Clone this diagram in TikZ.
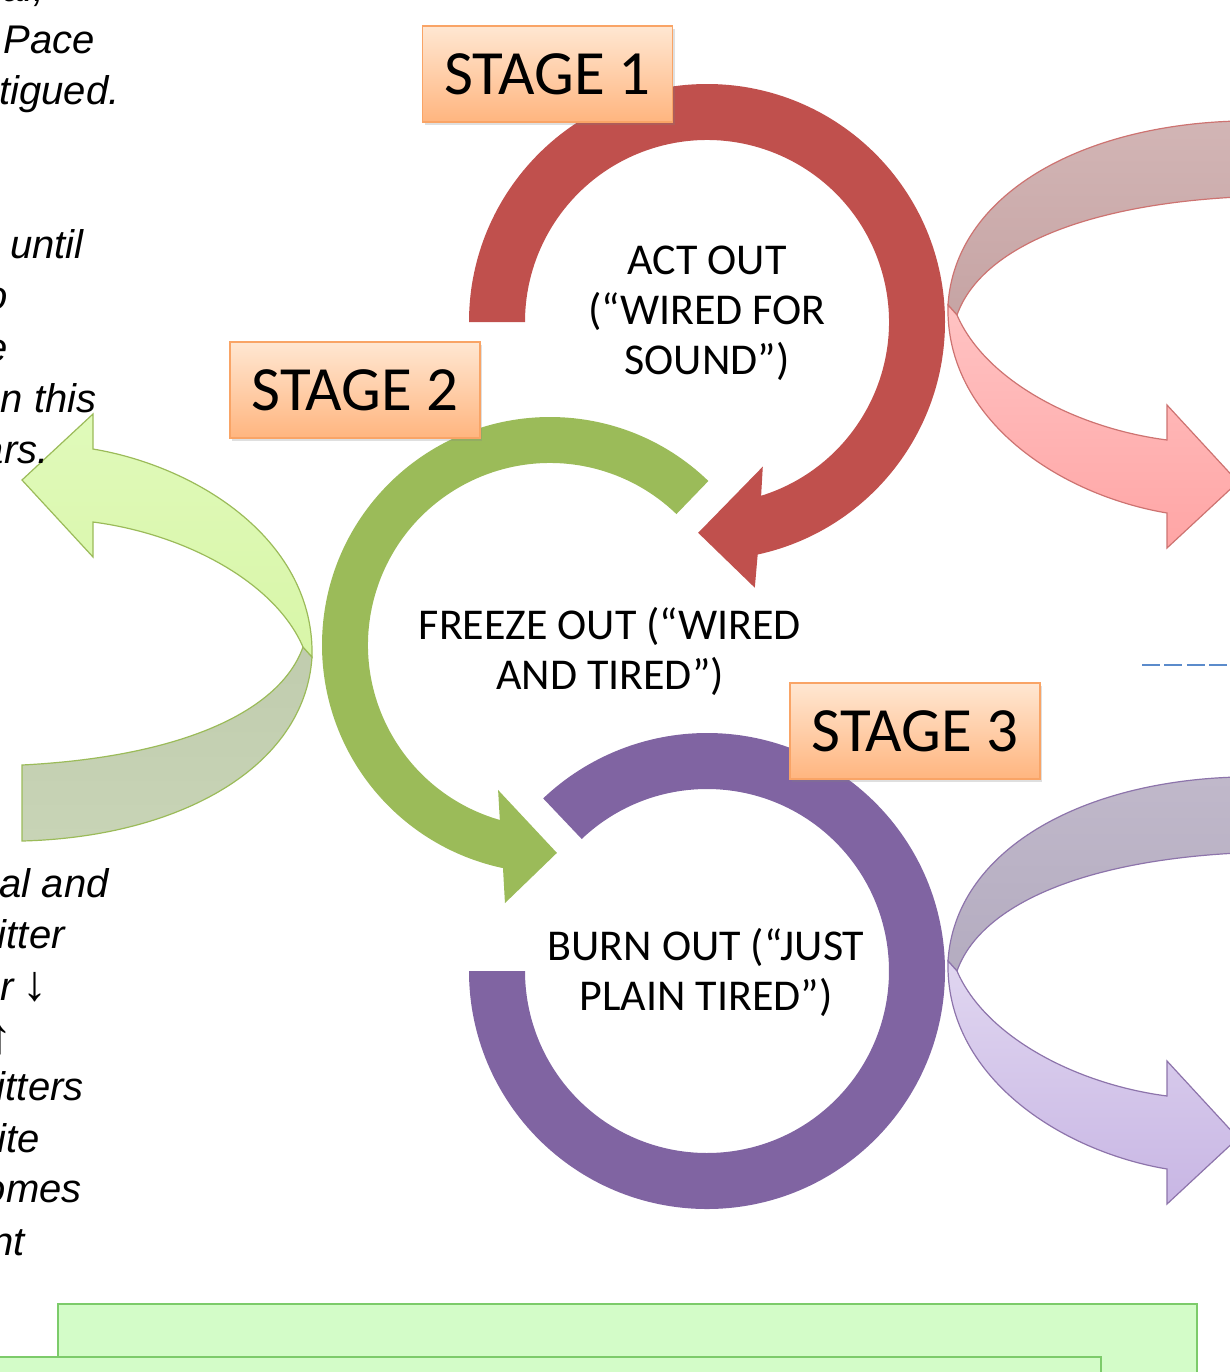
\documentclass[tikz,border=0pt]{standalone}
\usepackage{fontspec}
\setmainfont{Carlito}
\newfontfamily\sidefont{Liberation Sans}
\usetikzlibrary{calc,shadows}

\definecolor{ringred}{HTML}{C0504D}
\definecolor{ringgreen}{HTML}{9BBB59}
\definecolor{ringpurple}{HTML}{8064A2}
\definecolor{stagetop}{HTML}{FFE7D2}
\definecolor{stagebot}{HTML}{FFB57F}
\definecolor{stageline}{HTML}{F9A466}
\definecolor{redback}{HTML}{D2B5B5}
\definecolor{redbackb}{HTML}{C6A4A4}
\definecolor{redfront}{HTML}{FFC3C3}
\definecolor{redfrontb}{HTML}{FFA5A5}
\definecolor{grnback}{HTML}{C0CCAE}
\definecolor{grnbackb}{HTML}{C8D4B6}
\definecolor{grnfront}{HTML}{E0FABA}
\definecolor{grnfrontb}{HTML}{D8F6A8}
\definecolor{purback}{HTML}{C0B8CA}
\definecolor{purbackb}{HTML}{B4ACC0}
\definecolor{purfront}{HTML}{E0D6F0}
\definecolor{purfrontb}{HTML}{C8B6E4}
\definecolor{boxfill}{HTML}{D3FCC8}
\definecolor{boxline}{HTML}{7CCB6A}
\definecolor{dashblue}{HTML}{5B8BCB}

\newcommand\ribbonback{(1238,121) .. controls (1080,125) and (955,195) .. (948,305) -- (957,315) .. controls (980,250) and (1080,205) .. (1238,197) -- cycle}
\newcommand\ribbonfront{(948,305) .. controls (945,420) and (1060,495) .. (1167,513) -- (1167,548) -- (1238,482) -- (1167,405) -- (1167,440) .. controls (1075,428) and (985,380) .. (957,315) -- cycle}
\newcommand\bigarrow[1]{{\upshape\fontsize{25}{24}\selectfont #1}}

\tikzset{
  stagebox/.style={draw=stageline, line width=0.8pt, top color=stagetop, bottom color=stagebot,
    minimum width=125pt, minimum height=48pt, inner sep=0pt,
    drop shadow={shadow xshift=1pt, shadow yshift=-1.5pt, opacity=0.25},
    font=\fontsize{31.5}{36}\selectfont},
  ringtext/.style={align=center, inner sep=0pt, font=\fontsize{22}{25}\selectfont},
  sidetext/.style={anchor=base east, inner sep=0pt, font=\sidefont\itshape\fontsize{20}{24}\selectfont},
  greenbox/.style={draw=boxline, line width=1pt, fill=boxfill, inner sep=0pt},
  ribline/.style={line width=0.6pt},
  dashline/.style={draw=dashblue, line width=1.3pt, dash pattern=on 9pt off 2.2pt}
}

\begin{document}
\begin{tikzpicture}[x=0.5pt,y=-0.5pt]
\clip (0,0) rectangle (1230,1372);

% ---------- ribbons (curved 3D arrows) ----------
% red, right top
\path[ribline, draw=ringred!80, top color=redback, bottom color=redbackb] \ribbonback;
\path[ribline, draw=ringred!80, top color=redfront, bottom color=redfrontb] \ribbonfront;
% purple, right bottom
\begin{scope}[shift={(0,656)}]
\path[ribline, draw=ringpurple!90, top color=purback, bottom color=purbackb] \ribbonback;
\path[ribline, draw=ringpurple!90, top color=purfront, bottom color=purfrontb] \ribbonfront;
\end{scope}
% green, left
\begin{scope}[rotate around={180:(630,481)}]
\path[ribline, draw=ringgreen, top color=grnback, bottom color=grnbackb] \ribbonback;
\path[ribline, draw=ringgreen, top color=grnfront, bottom color=grnfrontb] \ribbonfront;
\end{scope}

% ---------- circular arrows ----------
\coordinate (c1) at (707,322);
\coordinate (c2) at (550,645);
\coordinate (c3) at (707,971);

\path[fill=ringred] ($(c1)+(180:238)$) arc[start angle=180,end angle=437.7,radius=238]
  -- ($(c1)+(439.8:270)$) -- ($(c1)+(452.4:211)$) -- ($(c1)+(428.9:155)$)
  -- ($(c1)+(432.7:182)$) arc[start angle=432.7,end angle=180,radius=182] -- cycle;

\path[fill=ringgreen] ($(c2)+(-46:228)$) arc[start angle=-46,end angle=-258.1,radius=228]
  -- ($(c2)+(-260.1:262)$) -- ($(c2)+(-271.9:208)$) -- ($(c2)+(-250.3:154)$)
  -- ($(c2)+(-254:182)$) arc[start angle=-254,end angle=-46,radius=182] -- cycle;

\path[fill=ringpurple] ($(c3)+(180:238)$) arc[start angle=180,end angle=-133.5,radius=238]
  -- ($(c3)+(-133.5:182)$) arc[start angle=-133.5,end angle=180,radius=182] -- cycle;

% ---------- ring texts ----------
\node[ringtext] (t1) at (707,313) {ACT OUT\\(“WIRED FOR\\SOUND”)};
\node[ringtext] (t2) at (610,651) {FREEZE OUT (“WIRED\\AND TIRED”)};
\node[ringtext] (t3) at (706,972) {BURN OUT (“JUST\\PLAIN TIRED”)};

% ---------- stage labels ----------
\node[stagebox] (s1) at (547.5,74) {STAGE 1};
\node[stagebox] (s2) at (355,390) {STAGE 2};
\node[stagebox] (s3) at (915,731) {STAGE 3};

% ---------- dashed line ----------
\coordinate (d1) at (1142,665);
\coordinate (d2) at (1240,665);
\draw[dashline] (d1) -- (d2);

% ---------- bottom boxes ----------
\node[greenbox, minimum width=569.5pt, minimum height=60pt] (b1) at (627.5,1364) {};
\node[greenbox, minimum width=555pt, minimum height=60pt, anchor=north west] (b2) at (-10,1356) {};

% ---------- left side text ----------
\node[sidetext] (l1) at (45,1) {al,};
\node[sidetext] (l2) at (95,53) {Pace};
\node[sidetext] (l3) at (120,104) {tigued.};
\node[sidetext] (l4) at (84,258) {until};
\node[sidetext] (l5) at (8,309) {o};
\node[sidetext] (l6) at (8,361) {e};
\node[sidetext] (l7) at (97,412) {n this};
\node[sidetext] (l8) at (49,463) {ars.};
\node[sidetext] (l9) at (109,897) {al and};
\node[sidetext] (l10) at (65,948) {itter};
\node[sidetext] (l11) at (14,1000) {er};
\node[sidetext] (l11b) at (48,1000) {\bigarrow{↓}};
\node[sidetext] (l12) at (13,1053) {\bigarrow{↑}};
\node[sidetext] (l13) at (84,1100) {itters};
\node[sidetext] (l14) at (40,1152) {ite};
\node[sidetext] (l15) at (82,1202) {omes};
\node[sidetext] (l16) at (25,1255) {nt};
\end{tikzpicture}
\end{document}
